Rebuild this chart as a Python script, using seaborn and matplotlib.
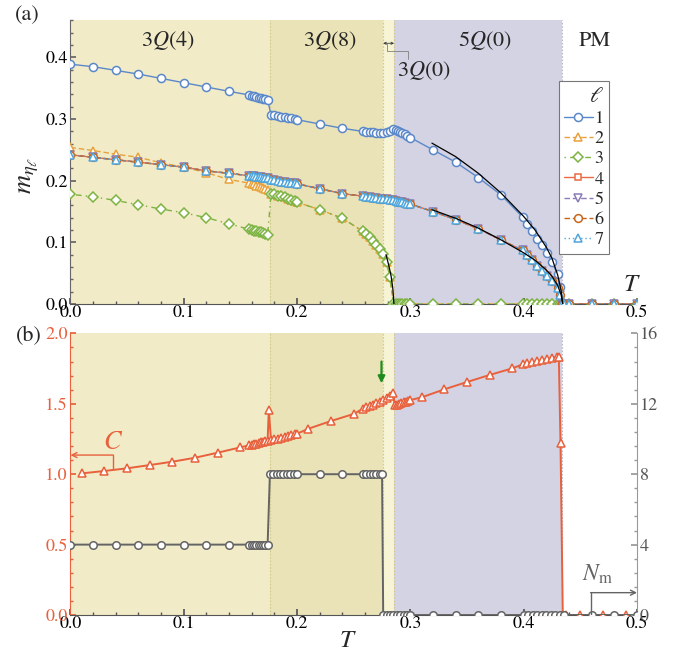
import matplotlib
matplotlib.use("Agg")
import matplotlib.pyplot as plt
import seaborn as sns
from matplotlib.lines import Line2D
from matplotlib.ticker import MultipleLocator, FormatStrFormatter

sns.set_theme(style="ticks")
plt.rcParams["font.family"] = ["STIXGeneral", "Liberation Serif", "DejaVu Serif"]
plt.rcParams["mathtext.fontset"] = "stix"

# ---------------- data: panel (a) ----------------
T_top = [0.000, 0.020, 0.040, 0.060, 0.080, 0.100, 0.120, 0.140,
         0.158, 0.160, 0.162, 0.164, 0.166, 0.168, 0.170, 0.172, 0.174,
         0.177, 0.180, 0.183, 0.186, 0.189, 0.192, 0.195, 0.198, 0.200,
         0.220, 0.240,
         0.258, 0.261, 0.264, 0.267, 0.270, 0.273, 0.276, 0.279, 0.282, 0.285,
         0.287, 0.289, 0.291, 0.293, 0.295, 0.297, 0.300,
         0.320, 0.340, 0.360, 0.380,
         0.399, 0.403, 0.407, 0.412, 0.416, 0.421, 0.425, 0.430, 0.432, 0.434,
         0.436, 0.440, 0.460, 0.480, 0.500]

m1 = [0.389, 0.385, 0.379, 0.373, 0.366, 0.359, 0.352, 0.345,
      0.339, 0.338, 0.337, 0.336, 0.335, 0.334, 0.333, 0.332, 0.331,
      0.307, 0.306, 0.305, 0.304, 0.303, 0.302, 0.301, 0.300, 0.299,
      0.292, 0.285,
      0.280, 0.279, 0.279, 0.279, 0.278, 0.278, 0.278, 0.279, 0.281, 0.284,
      0.283, 0.281, 0.279, 0.277, 0.275, 0.273, 0.270,
      0.250, 0.230, 0.205, 0.177,
      0.141, 0.130, 0.119, 0.106, 0.096, 0.082, 0.068, 0.048, 0.027, 0.000,
      0.000, 0.000, 0.000, 0.000, 0.000]

m3 = [0.178, 0.174, 0.168, 0.161, 0.154, 0.148, 0.140, 0.130,
      0.121, 0.120, 0.119, 0.118, 0.117, 0.116, 0.115, 0.113, 0.112,
      0.179, 0.178, 0.176, 0.175, 0.173, 0.171, 0.169, 0.167, 0.165,
      0.153, 0.139,
      0.118, 0.113, 0.108, 0.102, 0.096, 0.089, 0.081, 0.068, 0.043, 0.000,
      0.000, 0.000, 0.000, 0.000, 0.000, 0.000, 0.000,
      0.000, 0.000, 0.000, 0.000,
      0.000, 0.000, 0.000, 0.000, 0.000, 0.000, 0.000, 0.000, 0.000, 0.000,
      0.000, 0.000, 0.000, 0.000, 0.000]

# l=2 is distinct below T=0.175 and coincides with l=3 above it
m2 = [0.254, 0.249, 0.243, 0.238, 0.229, 0.222, 0.213, 0.202,
      0.196, 0.195, 0.194, 0.192, 0.191, 0.189, 0.188, 0.186, 0.185] + m3[17:]

m4 = [0.242, 0.238, 0.234, 0.230, 0.226, 0.222, 0.216, 0.212,
      0.208, 0.2075, 0.207, 0.2065, 0.206, 0.2055, 0.205, 0.2045, 0.204,
      0.2015, 0.2005, 0.1995, 0.1985, 0.1975, 0.197, 0.196, 0.1955, 0.195,
      0.187, 0.179,
      0.175, 0.174, 0.173, 0.172, 0.172, 0.171, 0.170, 0.170, 0.169, 0.168,
      0.167, 0.166, 0.166, 0.165, 0.164, 0.163, 0.162,
      0.150, 0.137, 0.122, 0.104,
      0.087, 0.079, 0.071, 0.062, 0.054, 0.045, 0.037, 0.026, 0.014, 0.000,
      0.000, 0.000, 0.000, 0.000, 0.000]
m5 = list(m4)
m6 = list(m4)
m7 = list(m4)

# black critical fits
fit1_T = [0.319, 0.340, 0.360, 0.380, 0.400, 0.410, 0.420, 0.425, 0.430, 0.433, 0.4345]
fit1_m = [0.261, 0.239, 0.212, 0.180, 0.142, 0.120, 0.092, 0.074, 0.047, 0.022, 0.000]
fit4_T = [0.319, 0.340, 0.360, 0.380, 0.400, 0.410, 0.420, 0.425, 0.430, 0.433, 0.4345]
fit4_m = [0.153, 0.139, 0.123, 0.104, 0.083, 0.071, 0.055, 0.045, 0.030, 0.015, 0.000]
fit3_T = [0.2785, 0.281, 0.283, 0.2845, 0.2855]
fit3_m = [0.080, 0.062, 0.045, 0.025, 0.000]

# ---------------- data: panel (b) ----------------
T_C = [0.010, 0.030, 0.050, 0.070, 0.090, 0.110, 0.130, 0.150,
       0.158, 0.160, 0.162, 0.164, 0.166, 0.168, 0.170, 0.172, 0.174,
       0.175,
       0.177, 0.180, 0.183, 0.186, 0.189, 0.192, 0.195, 0.198, 0.200,
       0.210, 0.230, 0.250,
       0.258, 0.261, 0.264, 0.267, 0.270, 0.273, 0.276, 0.279, 0.282, 0.285,
       0.286, 0.288, 0.290, 0.292, 0.294, 0.296, 0.298, 0.300,
       0.310, 0.330, 0.350, 0.370, 0.390,
       0.399, 0.403, 0.407, 0.412, 0.416, 0.421, 0.425, 0.429, 0.431,
       0.4325, 0.4345, 0.437, 0.450, 0.470, 0.490]
C_val = [1.006, 1.023, 1.042, 1.065, 1.089, 1.117, 1.153, 1.191,
         1.206, 1.210, 1.214, 1.218, 1.222, 1.226, 1.230, 1.234, 1.238,
         1.456,
         1.241, 1.247, 1.253, 1.259, 1.265, 1.271, 1.277, 1.283, 1.288,
         1.323, 1.378, 1.428,
         1.465, 1.475, 1.485, 1.495, 1.505, 1.515, 1.525, 1.540, 1.555, 1.579,
         1.490, 1.495, 1.500, 1.505, 1.510, 1.515, 1.520, 1.527,
         1.546, 1.603, 1.655, 1.705, 1.752,
         1.780, 1.787, 1.794, 1.802, 1.810, 1.818, 1.825, 1.832, 1.836,
         1.219, 0.000, 0.000, 0.000, 0.000, 0.000]

T_N = [0.000, 0.020, 0.040, 0.060, 0.080, 0.100, 0.120, 0.140,
       0.158, 0.160, 0.162, 0.164, 0.166, 0.168, 0.170, 0.172, 0.174,
       0.176, 0.179, 0.182, 0.185, 0.188, 0.191, 0.194, 0.197, 0.200,
       0.220, 0.240,
       0.258, 0.261, 0.264, 0.267, 0.270, 0.273, 0.275,
       0.276, 0.279, 0.282, 0.285, 0.288, 0.291, 0.294, 0.297, 0.300,
       0.320, 0.340, 0.360, 0.380,
       0.400, 0.404, 0.408, 0.412, 0.416, 0.420, 0.424, 0.428, 0.432,
       0.436, 0.460, 0.480, 0.500]
N_val = [4, 4, 4, 4, 4, 4, 4, 4,
         4, 4, 4, 4, 4, 4, 4, 4, 4,
         8, 8, 8, 8, 8, 8, 8, 8, 8,
         8, 8,
         8, 8, 8, 8, 8, 8, 8,
         0, 0, 0, 0, 0, 0, 0, 0, 0,
         0, 0, 0, 0,
         0, 0, 0, 0, 0, 0, 0, 0, 0,
         0, 0, 0, 0]

phase_edges = [0.0, 0.1759, 0.276, 0.2856, 0.434]
phase_names = [r"$3Q(4)$", r"$3Q(8)$", r"$3Q(0)$", r"$5Q(0)$", "PM"]
phase_colors = ["#F1EBC8", "#EAE3B7", "#F6F4D4", "#D4D3E4"]

ell_labels = ["1", "2", "3", "4", "5", "6", "7"]
ell_colors = ["#5B88C8", "#E9A23B", "#7DB342", "#EA6A43", "#8A7BB9", "#C8651B", "#4FA6DC"]
ell_markers = ["o", "^", "D", "s", "v", "o", "^"]
ell_styles = ["-", (0, (4, 2)), (0, (1, 3, 4, 3)), "-", (0, (4, 2)), (0, (4, 2)), (0, (1, 2))]
ell_sizes = [5.8, 5.8, 4.6, 5.0, 5.8, 5.6, 5.8]

C_color = "#E8603C"
N_color = "#646464"

# ---------------- figure ----------------
fig = plt.figure(figsize=(6.75, 6.54), dpi=100)
ax1 = fig.add_axes([0.1044, 0.5352, 0.8393, 0.4335])
ax2 = fig.add_axes([0.1044, 0.0596, 0.8393, 0.4306])


def shade(ax):
    for i, col in enumerate(phase_colors):
        ax.axvspan(phase_edges[i], phase_edges[i + 1], color=col, lw=0, zorder=0)
    for xb in phase_edges[1:4]:
        ax.axvline(xb, color="#D2C98C", lw=0.8, ls=(0, (1.5, 1.5)), zorder=0.5)
    ax.axvline(phase_edges[4], color="#B8B8C8", lw=0.8, ls=(0, (1.5, 1.5)), zorder=0.5)


def draw(ax, T, y, color, marker, ls, ms, z, lw=1.0):
    sns.lineplot(x=T, y=y, ax=ax, color=color, linestyle=ls, linewidth=lw,
                 marker=marker, markersize=ms, markerfacecolor="white",
                 markeredgecolor=color, markeredgewidth=1.1,
                 estimator=None, sort=False, legend=False, zorder=z)


shade(ax1)
shade(ax2)

series = [m1, m2, m3, m4, m5, m6, m7]
for k, ys in enumerate(series):
    draw(ax1, T_top, ys, ell_colors[k], ell_markers[k], ell_styles[k], ell_sizes[k], 3 + k)

for fT, fm in [(fit1_T, fit1_m), (fit4_T, fit4_m), (fit3_T, fit3_m)]:
    sns.lineplot(x=fT, y=fm, ax=ax1, color="black", linewidth=0.9,
                 estimator=None, sort=False, legend=False, zorder=12)

ax1.set_xlim(0, 0.5)
ax1.set_ylim(0, 0.46)
ax1.set_xlabel("")
ax1.set_ylabel("")

# phase labels
ax1.text(0.086, 0.427, phase_names[0], ha="center", va="center", fontsize=16)
ax1.text(0.229, 0.427, phase_names[1], ha="center", va="center", fontsize=16)
ax1.text(0.366, 0.427, phase_names[3], ha="center", va="center", fontsize=16)
ax1.text(0.463, 0.427, phase_names[4], ha="center", va="center", fontsize=16)
ax1.text(0.3117, 0.379, phase_names[2], ha="center", va="center", fontsize=16)
ax1.annotate("", xy=(phase_edges[2], 0.423), xytext=(phase_edges[3], 0.423),
             arrowprops=dict(arrowstyle="<->", lw=0.6, color="#333333",
                             mutation_scale=4, shrinkA=0, shrinkB=0))
ax1.plot([0.2797, 0.2797, 0.2975, 0.2975], [0.423, 0.4112, 0.4112, 0.397],
         color="#808080", lw=0.6, zorder=13)
ax1.text(0.4957, 0.031, r"$T$", ha="center", va="center", fontsize=18)

# legend
handles = [Line2D([], [], color=ell_colors[k], ls=ell_styles[k], lw=1.0,
                  marker=ell_markers[k], ms=ell_sizes[k], mfc="white",
                  mec=ell_colors[k], mew=1.1) for k in range(7)]
leg = ax1.legend(handles, ell_labels, title=r"$\ell$", loc="upper right",
                 bbox_to_anchor=(0.951, 0.785), fontsize=13, title_fontsize=16,
                 handlelength=1.6, handletextpad=0.1, borderpad=0.3,
                 labelspacing=0.2, frameon=True, fancybox=False,
                 edgecolor="#777777", framealpha=1.0, borderaxespad=0,
                 alignment="right")
leg.get_frame().set_linewidth(0.8)
leg.set_zorder(20)

# panel (b)
draw(ax2, T_C, C_val, C_color, "^", "-", 5.8, 5, lw=1.4)
ax2r = ax2.twinx()
draw(ax2r, T_N, N_val, N_color, "o", "-", 5.4, 5, lw=1.4)
ax2.set_xlim(0, 0.5)
ax2.set_ylim(0, 2.0)
ax2r.set_ylim(0, 16)
ax2.set_xlabel("")
ax2.set_ylabel("")
ax2r.set_ylabel("")

# C bracket arrow
ax2.plot([0.0378, 0.0378], [1.035, 1.136], color=C_color, lw=1.0, zorder=6)
ax2.annotate("", xy=(0.0, 1.136), xytext=(0.0378, 1.136),
             arrowprops=dict(arrowstyle="->", lw=1.0, color=C_color,
                             mutation_scale=9, shrinkA=0, shrinkB=0))
ax2.text(0.0378, 1.219, r"$C$", color=C_color, ha="center", va="center", fontsize=19)
# N_m bracket arrow
ax2r.plot([0.459, 0.459], [0.0, 1.27], color=N_color, lw=1.0, zorder=6)
ax2r.annotate("", xy=(0.5, 1.27), xytext=(0.459, 1.27),
              arrowprops=dict(arrowstyle="->", lw=1.0, color=N_color,
                              mutation_scale=9, shrinkA=0, shrinkB=0))
ax2r.text(0.4655, 2.3, r"$N_{\rm m}$", color=N_color, ha="center", va="center", fontsize=17)
# green arrow
ax2.annotate("", xy=(0.2745, 1.646), xytext=(0.2745, 1.80),
             arrowprops=dict(arrowstyle="-|>", lw=1.6, color="#1E8C1E",
                             mutation_scale=10, shrinkA=0, shrinkB=0), zorder=8)

# axes styling
for ax in (ax1, ax2):
    ax.xaxis.set_major_locator(MultipleLocator(0.1))
    ax.xaxis.set_minor_locator(MultipleLocator(0.02))
    ax.xaxis.set_major_formatter(FormatStrFormatter("%.1f"))
    ax.spines["top"].set_visible(False)
    ax.spines["bottom"].set_color("#555555")
    ax.spines["bottom"].set_linewidth(0.8)
    ax.tick_params(axis="x", which="both", direction="in", colors="#555555",
                   labelcolor="black", labelsize=13, pad=1)
    ax.tick_params(axis="x", which="major", length=4)
    ax.tick_params(axis="x", which="minor", length=2)
    ax.set_facecolor("white")

ax1.spines["right"].set_visible(False)
ax1.spines["left"].set_color("#666666")
ax1.spines["left"].set_linewidth(0.8)
ax1.yaxis.set_major_locator(MultipleLocator(0.1))
ax1.yaxis.set_minor_locator(MultipleLocator(0.02))
ax1.yaxis.set_major_formatter(FormatStrFormatter("%.1f"))
ax1.tick_params(axis="y", which="both", direction="in", colors="#666666",
                labelcolor="black", labelsize=13, pad=2)
ax1.tick_params(axis="y", which="major", length=4)
ax1.tick_params(axis="y", which="minor", length=2)

ax2.spines["right"].set_visible(False)
ax2.spines["left"].set_color(C_color)
ax2.spines["left"].set_linewidth(0.8)
ax2.yaxis.set_major_locator(MultipleLocator(0.5))
ax2.yaxis.set_minor_locator(MultipleLocator(0.1))
ax2.yaxis.set_major_formatter(FormatStrFormatter("%.1f"))
ax2.tick_params(axis="y", which="both", direction="in", colors=C_color,
                labelcolor=C_color, labelsize=13, pad=2)
ax2.tick_params(axis="y", which="major", length=4)
ax2.tick_params(axis="y", which="minor", length=2)

for s in ("top", "left", "bottom"):
    ax2r.spines[s].set_visible(False)
ax2r.spines["right"].set_color("#999999")
ax2r.spines["right"].set_linewidth(0.8)
ax2r.yaxis.set_major_locator(MultipleLocator(4))
ax2r.yaxis.set_minor_locator(MultipleLocator(0.8))
ax2r.tick_params(axis="y", which="both", direction="in", colors="#999999",
                 labelcolor="#555555", labelsize=13, pad=2)
ax2r.tick_params(axis="y", which="major", length=4)
ax2r.tick_params(axis="y", which="minor", length=2)

# labels
fig.text(27.5 / 675, 1 - 15 / 654, "(a)", ha="center", va="center", fontsize=16)
fig.text(29 / 675, 1 - 336.7 / 654, "(b)", ha="center", va="center", fontsize=16)
fig.text(28.5 / 675, 1 - 175 / 654, r"$m_{\eta_\ell}$", ha="center", va="center",
         rotation=90, fontsize=19)
fig.text(348 / 675, 1 - 641 / 654, r"$T$", ha="center", va="center", fontsize=18)

fig.savefig("out.png", dpi=100)
